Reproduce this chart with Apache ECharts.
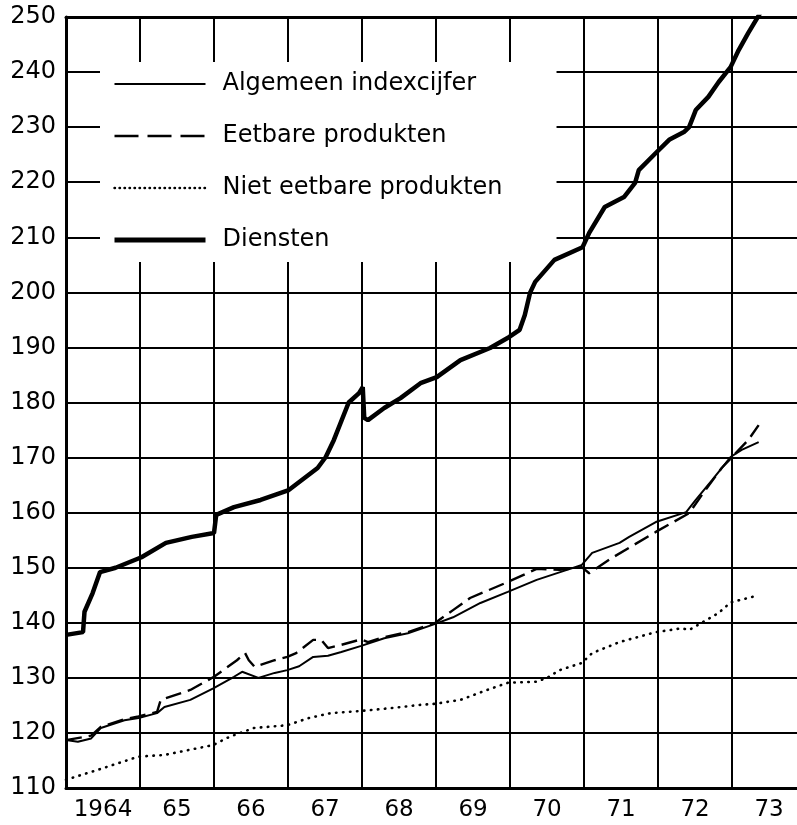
<!DOCTYPE html>
<html>
<head>
<meta charset="utf-8">
<script src="https://cdn.jsdelivr.net/npm/echarts@6/dist/echarts.min.js"></script>
<style>
  html, body { margin: 0; padding: 0; background: #fff; }
  #chart { width: 797px; height: 825px; }
</style>
</head>
<body>
<div id="chart"></div>
<script>
// jaartallen onder de as (midden van elke kolom)
var yearLabels = ["1964", "65", "66", "67", "68", "69", "70", "71", "72", "73"];
var seriesNames = ["Algemeen indexcijfer", "Eetbare produkten", "Niet eetbare produkten", "Diensten"];

// [jaar, indexcijfer]
var algemeen = [
  [1964.00, 118.7], [1964.16, 118.4], [1964.34, 119.0], [1964.47, 120.9], [1964.79, 122.3],
  [1964.98, 122.7], [1965.23, 123.6], [1965.33, 124.7], [1965.68, 126.0], [1965.99, 128.1],
  [1966.27, 130.2], [1966.38, 131.1], [1966.60, 130.0], [1966.82, 130.9], [1966.99, 131.4],
  [1967.15, 132.1], [1967.34, 133.8], [1967.54, 134.0], [1967.72, 134.7], [1967.99, 135.8],
  [1968.30, 137.2], [1968.62, 138.1], [1968.99, 139.8], [1969.23, 141.0], [1969.60, 143.6],
  [1969.97, 145.6], [1970.36, 147.8], [1970.77, 149.6], [1970.97, 150.5], [1971.11, 152.7],
  [1971.48, 154.5], [1971.61, 155.6], [1971.97, 158.3], [1972.38, 160.1], [1972.51, 162.3],
  [1972.73, 165.9], [1972.98, 170.1], [1973.13, 171.4], [1973.36, 172.8]
];

var eetbaar = [
  [1964.00, 118.7], [1964.34, 119.5], [1964.47, 121.1], [1964.79, 122.5], [1964.98, 123.0],
  [1965.23, 123.8], [1965.28, 126.0], [1965.68, 127.8], [1966.00, 130.2], [1966.31, 133.2],
  [1966.42, 134.5], [1966.47, 133.2], [1966.55, 132.0], [1966.82, 133.2], [1966.99, 133.8],
  [1967.11, 134.5], [1967.34, 136.9], [1967.45, 136.9], [1967.54, 135.4], [1967.72, 136.0],
  [1967.99, 137.0], [1968.08, 136.5], [1968.30, 137.4], [1968.62, 138.3], [1968.99, 140.0],
  [1969.23, 142.3], [1969.46, 144.5], [1969.97, 147.4], [1970.36, 149.8], [1970.67, 149.6],
  [1970.97, 150.1], [1971.07, 149.0], [1971.38, 151.8], [1971.97, 156.5], [1972.42, 159.9],
  [1972.64, 164.1], [1972.86, 168.1], [1973.05, 170.8], [1973.22, 173.2], [1973.36, 175.9]
];

var nietEetbaar = [
  [1964.00, 111.5], [1964.43, 113.3], [1964.98, 115.7], [1965.33, 116.0], [1965.99, 117.8],
  [1966.21, 119.3], [1966.54, 120.9], [1966.99, 121.4], [1967.28, 122.7], [1967.58, 123.6],
  [1967.99, 124.0], [1968.39, 124.5], [1968.79, 125.1], [1968.99, 125.3], [1969.33, 126.0],
  [1969.69, 127.8], [1969.97, 129.1], [1970.36, 129.3], [1970.50, 130.0], [1970.67, 131.4],
  [1970.97, 132.7], [1971.11, 134.5], [1971.48, 136.5], [1971.97, 138.3], [1972.32, 139.0],
  [1972.42, 138.7], [1972.59, 140.0], [1972.82, 141.8], [1972.98, 143.7], [1973.36, 145.0]
];

var diensten = [
  [1964.00, 137.8], [1964.23, 138.3], [1964.25, 142.0], [1964.36, 145.4], [1964.46, 149.2],
  [1964.67, 150.0], [1965.02, 151.9], [1965.35, 154.5], [1965.70, 155.6], [1966.00, 156.3],
  [1966.03, 159.6], [1966.27, 161.0], [1966.63, 162.3], [1967.01, 164.1], [1967.40, 168.1],
  [1967.51, 170.1], [1967.62, 173.2], [1967.82, 180.0], [1967.96, 181.7], [1968.01, 182.8],
  [1968.03, 177.2], [1968.08, 176.8], [1968.30, 179.0], [1968.52, 180.8], [1968.79, 183.5],
  [1969.01, 184.6], [1969.33, 187.7], [1969.73, 189.9], [1969.99, 191.9], [1970.13, 193.2],
  [1970.20, 195.9], [1970.27, 199.9], [1970.34, 201.9], [1970.60, 205.9], [1970.98, 208.2],
  [1971.07, 210.8], [1971.28, 215.5], [1971.54, 217.3], [1971.69, 219.9], [1971.74, 222.2],
  [1971.97, 225.3], [1972.15, 227.7], [1972.35, 229.1], [1972.42, 230.0], [1972.51, 233.1],
  [1972.68, 235.5], [1972.82, 238.2], [1972.98, 240.9], [1973.09, 244.0], [1973.22, 247.1],
  [1973.38, 250.7]
];

var myChart = echarts.init(document.getElementById("chart"));
var font = "DejaVu Sans";

// lijnstijlen per reeks (ook gebruikt in de legenda)
var styles = [
  { color: "#000", width: 2 },
  { color: "#000", width: 2.4, type: [16, 7] },
  { color: "#000", width: 2.6, type: [0.5, 6.5], cap: "round" },
  { color: "#000", width: 4.5 },
];
var legendStyles = [
  { width: 2.2 },
  { width: 2.6, type: [24, 9] },
  { width: 2.4, type: [0.5, 4.5], cap: "round" },
  { width: 5 },
];

var option = {
  backgroundColor: "#fff",
  animation: false,
  grid: { left: 66, right: 0, top: 17, bottom: 37 },
  legend: {
    orient: "vertical",
    left: 100,
    top: 62,
    z: 1, // boven het raster, onder de lijnen
    backgroundColor: "#fff",
    padding: [10, 54, 10, 12],
    itemWidth: 91,
    itemHeight: 14,
    itemGap: 28,
    data: seriesNames.map(function (n, i) {
      return { name: n, lineStyle: legendStyles[i] };
    }),
    // geen bolletje in de legenda, alleen de lijn
    itemStyle: { color: "rgba(0,0,0,0)", borderColor: "rgba(0,0,0,0)", borderWidth: 0 },
    textStyle: {
      color: "#000",
      fontFamily: font,
      fontSize: 24,
      lineHeight: 24,
      padding: [0, 0, 0, 12],
    },
  },
  xAxis: [
    {
      // jaartallen
      type: "value",
      min: 1964,
      max: 1973.878,
      interval: 0.5,
      position: "bottom",
      axisLine: { show: true, lineStyle: { color: "#000", width: 3 } },
      axisTick: { show: false },
      splitLine: { show: false },
      axisLabel: {
        color: "#000",
        fontFamily: font,
        fontSize: 23,
        margin: 11,
        showMaxLabel: false,
        formatter: function (v) {
          if (v % 1 === 0.5) {
            return yearLabels[Math.floor(v - 1964)] || "";
          }
          return "";
        },
      },
    },
    {
      // verticale rasterlijnen + bovenrand
      type: "value",
      min: 1964,
      max: 1973.878,
      interval: 1,
      position: "top",
      axisLine: { show: true, lineStyle: { color: "#000", width: 3 } },
      axisTick: { show: false },
      axisLabel: { show: false },
      splitLine: {
        show: true,
        showMinLine: false,
        showMaxLine: false,
        lineStyle: { color: "#000", width: 2 },
      },
    },
  ],
  yAxis: {
    type: "value",
    min: 110,
    max: 250,
    interval: 10,
    axisLine: { show: true, lineStyle: { color: "#000", width: 3 } },
    axisTick: { show: false },
    axisLabel: { color: "#000", fontFamily: font, fontSize: 24, margin: 10 },
    splitLine: { show: true, lineStyle: { color: "#000", width: 2 } },
  },
  series: [
    { name: seriesNames[0], type: "line", data: algemeen, symbol: "none", lineStyle: styles[0], itemStyle: { color: "#000" }, z: 3 },
    { name: seriesNames[1], type: "line", data: eetbaar, symbol: "none", lineStyle: styles[1], itemStyle: { color: "#000" }, z: 3 },
    { name: seriesNames[2], type: "line", data: nietEetbaar, symbol: "none", lineStyle: styles[2], itemStyle: { color: "#000" }, z: 3 },
    { name: seriesNames[3], type: "line", data: diensten, symbol: "none", lineStyle: styles[3], itemStyle: { color: "#000" }, z: 3 },
  ],
};

myChart.setOption(option);
</script>
</body>
</html>
